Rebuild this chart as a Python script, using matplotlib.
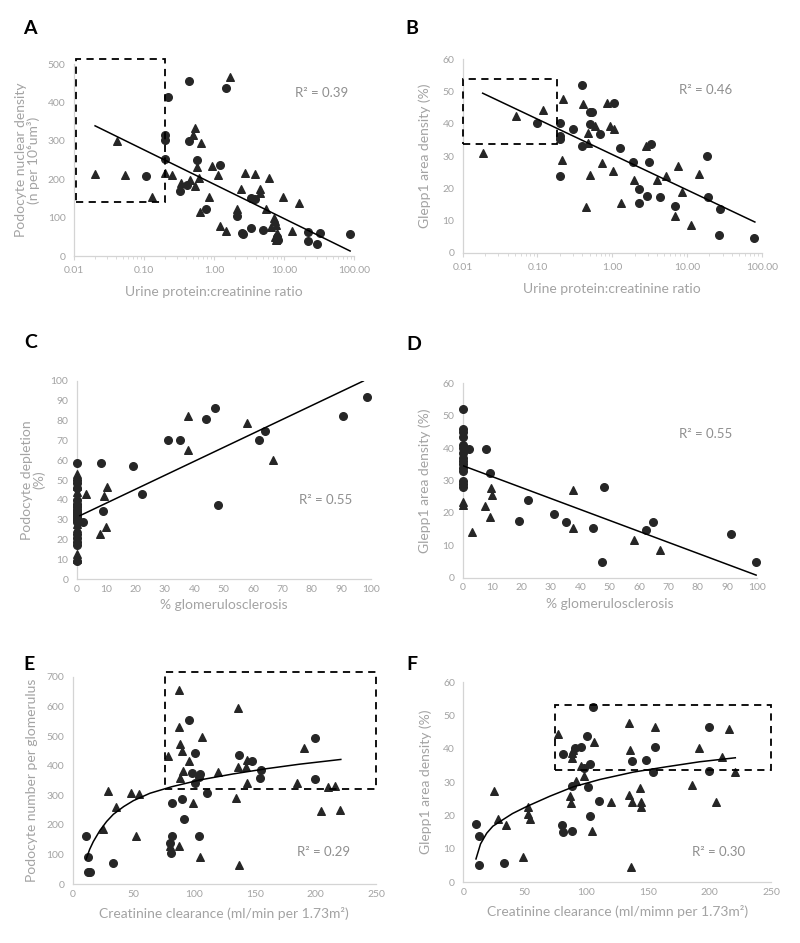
import numpy as np
import matplotlib
matplotlib.use("Agg")
import matplotlib.pyplot as plt
from matplotlib.patches import Rectangle
from matplotlib.ticker import FixedLocator, NullFormatter

plt.rcParams["font.family"] = ["Lato", "DejaVu Sans"]

# ─────────────────────────────────────────────
# Data
# ─────────────────────────────────────────────
# A: urine protein:creatinine ratio vs podocyte nuclear density
A_circ_x = [0.44, 1.47, 0.22, 0.2, 0.2, 0.2, 0.44, 0.106, 0.33, 0.41, 0.565, 0.77, 1.22,
            2.15, 2.5, 2.6, 3.4, 3.4, 3.9, 5.0, 22.3, 22.3, 30, 33, 88, 7.9, 8.1]
A_circ_y = [456, 438, 413, 315, 302, 252, 299, 208, 169, 186, 250, 123, 238,
            103, 61, 57, 73, 151, 148, 69, 63, 39, 30, 60, 57, 50, 41]
A_tri_x = [0.02, 0.041, 0.054, 0.129, 0.2, 0.25, 0.34, 0.45, 0.495, 0.53, 0.54, 0.565,
           0.61, 0.63, 0.65, 0.85, 0.95, 1.15, 1.22, 1.5, 1.69, 2.15, 2.43, 2.8, 3.9,
           4.5, 4.6, 6.1, 5.6, 6.5, 7.2, 7.5, 7.8, 8.0, 7.4, 7.7, 9.8, 13, 16.5]
A_tri_y = [214, 299, 210, 154, 215, 210, 190, 199, 315, 334, 182, 232,
           204, 115, 295, 154, 235, 210, 79, 65, 467, 123, 174, 217, 214,
           174, 163, 202, 123, 76, 100, 90, 80, 60, 50, 42, 154, 65, 138]
A_trend_x = [0.02, 88]
A_trend_y = [339, 13]

# B: urine protein:creatinine ratio vs Glepp1 area density
B_circ_x = [0.39, 0.098, 0.2, 0.2, 0.2, 0.2, 0.30, 0.39, 0.50, 0.53, 0.50, 0.69, 1.07,
            1.27, 1.92, 2.25, 2.25, 2.96, 3.15, 3.35, 4.37, 6.95, 18.8, 19.3, 26.5, 27.8, 80]
B_circ_y = [52, 40.2, 40.3, 36.1, 35.3, 24, 38.5, 33, 43.8, 43.8, 40, 36.8, 46.4,
            32.5, 28.1, 19.9, 15.5, 17.8, 28.1, 33.7, 17.3, 14.7, 29.9, 17.3, 5.6, 13.7, 4.5]
B_tri_x = [0.0185, 0.051, 0.117, 0.21, 0.22, 0.41, 0.47, 0.48, 0.45, 0.5, 0.59, 0.74,
           0.85, 0.93, 1.03, 1.07, 1.33, 1.94, 2.8, 3.94, 5.2, 6.95, 7.7, 8.5, 11.3, 14.3]
B_tri_y = [30.9, 42.3, 44.3, 28.9, 47.7, 46.2, 34, 37.3, 14.4, 24.2, 39.4, 27.8,
           46.6, 39.2, 25.3, 38.4, 15.5, 22.7, 33, 22.7, 23.7, 11.6, 27.1, 18.8, 8.8, 24.4]
B_trend_x = [0.0185, 81]
B_trend_y = [49.5, 9.6]

# C: % glomerulosclerosis vs podocyte depletion
C_circ_x = [0] * 19 + [2, 8.3, 9, 19, 22.3, 31, 35.1, 43.9, 47, 48, 62, 64, 90.7, 98.9]
C_circ_y = [58.5, 50, 48.5, 46, 40, 38, 36.5, 35, 34, 33, 32, 31, 30, 29, 23, 21, 19, 17.5, 9,
            28.7, 58.8, 34.3, 57.3, 43.2, 70, 70, 80.8, 86.2, 37.3, 70, 74.6, 82.4, 91.8]
C_tri_x = [0] * 9 + [3.2, 7.9, 9.4, 9.8, 10.3, 37.8, 37.8, 57.9, 66.6]
C_tri_y = [53, 47, 44, 39, 37, 28, 26, 13, 10,
           42.9, 22.9, 42.2, 26.2, 46.6, 82.4, 65.4, 78.8, 60]
C_trend_x = [1.1, 97.5]
C_trend_y = [32.1, 100]

# D: % glomerulosclerosis vs Glepp1 area density
D_circ_x = [0] * 15 + [2.2, 7.9, 9.2, 19.3, 22.1, 31, 35.3, 44.3, 47.3, 48.2, 62.5, 64.6, 91.4, 99.8]
D_circ_y = [52.2, 46, 45, 43.5, 41, 40, 38.5, 37, 36, 35, 34, 33, 30, 29, 28,
            39.8, 39.8, 32.2, 17.4, 23.9, 19.7, 17.1, 15.3, 4.9, 27.9, 14.7, 17.1, 13.6, 4.8]
D_tri_x = [0, 0, 3.2, 7.7, 9.3, 9.5, 10.1, 37.5, 37.5, 58.4, 67.2]
D_tri_y = [23.3, 22.3, 14.2, 22, 18.8, 27.6, 25.4, 27.1, 15.2, 11.6, 8.7]
D_trend_x = [0, 99.8]
D_trend_y = [34.6, 0.8]

# E: creatinine clearance vs podocyte number per glomerulus
E_circ_x = [10.7, 12.9, 13, 14.5, 33.5, 80, 82, 82, 96, 90.4, 91.5, 81, 98.6, 101, 101,
            104, 105, 104, 111, 137, 148, 154, 155.5, 200, 200]
E_circ_y = [163, 93, 43, 43, 73, 138, 273, 163, 554, 288, 220, 104, 376, 442, 341,
            363, 371, 163, 308, 437, 417, 360, 385, 356, 492]
E_tri_x = [29.4, 25.3, 35.7, 48.4, 54.4, 52.2, 78.8, 87.4, 88, 88.5, 90, 90.7, 88.5, 87.6,
           80, 96, 99, 105, 106.6, 120, 134.6, 136, 136, 137, 143, 144, 144, 185, 190.7,
           205, 210.7, 216, 220]
E_tri_y = [315, 188, 260, 308, 305, 163, 433, 529, 655, 473, 449, 383, 358, 129,
           130, 417, 275, 93, 497, 378, 292, 596, 396, 65, 396, 420, 342, 342, 461,
           248, 329, 332, 249]
E_trend_x = [11, 14, 17, 22.5, 28, 33.5, 42, 50, 63.7, 81.6, 105, 132, 160, 187, 221]
E_trend_y = [84, 118, 144, 182, 212, 236, 262, 282, 307, 329, 352, 372, 390, 405, 421]

# F: creatinine clearance vs Glepp1 area density
F_circ_x = [10, 12.5, 13, 33, 80.4, 81.3, 81.3, 88.6, 88.6, 90.7, 96, 98.3, 100.2, 101,
            103, 103, 105, 110, 137, 148.4, 153.8, 155.5, 200, 200]
F_circ_y = [17.5, 14, 5.2, 5.7, 17.2, 15, 38.4, 15.5, 28.8, 40.1, 40.4, 34.1, 43.8, 28.4,
            20, 35.4, 52.6, 24.3, 36.2, 36.7, 32.9, 40.4, 46.4, 33.4]
F_tri_x = [25, 28, 34.7, 48.2, 52.8, 52.5, 54, 77.2, 86.7, 87.2, 88, 88.5, 89.5, 91.3,
           96, 98.3, 104.5, 106.4, 119.7, 134.3, 135, 135.4, 136, 137, 143.5, 144, 144,
           156, 185.5, 191.2, 205.6, 210, 216, 221]
F_tri_y = [27.4, 19, 17.2, 7.5, 22.7, 20.5, 18.9, 44.3, 25.9, 23.7, 37.3, 38.6, 39.6, 30.3,
           34.9, 31.9, 15.5, 42.1, 24, 26.1, 47.8, 39.6, 4.5, 24, 28.1, 24.2, 22.5,
           46.4, 29.2, 40.3, 24.2, 37.4, 45.9, 33.1]
F_trend_x = [10.3, 14, 19, 24, 29.8, 40, 51.5, 70.4, 89.4, 111, 138, 165, 192, 221]
F_trend_y = [7, 11.5, 14.7, 16.8, 18.2, 20.6, 22.7, 25.8, 28.6, 30.8, 33, 34.6, 36.1, 37.3]

# ─────────────────────────────────────────────
# Style
# ─────────────────────────────────────────────
W, H = 800, 943
MARK = "#262626"
TXT = "#a3a3a3"
R2C = "#8f8f8f"
AXC = "#d4d4d4"
MS = 30

fig = plt.figure(figsize=(W / 100, H / 100), dpi=100)


def px_axes(x0, x1, ytop, ybot):
    return fig.add_axes([x0 / W, 1 - ybot / H, (x1 - x0) / W, (ybot - ytop) / H])


def style(ax):
    for s in ["top", "right"]:
        ax.spines[s].set_visible(False)
    for s in ["left", "bottom"]:
        ax.spines[s].set_color(AXC)
        ax.spines[s].set_linewidth(0.9)
    ax.tick_params(axis="both", colors=AXC, labelcolor=TXT, labelsize=7.5)
    ax.tick_params(axis="y", length=0, pad=6)
    ax.tick_params(axis="x", length=3, pad=4)


def scatter(ax, cx, cy, tx, ty):
    ax.scatter(cx, cy, marker="o", s=MS, color=MARK, zorder=3, clip_on=False)
    ax.scatter(tx, ty, marker="^", s=MS, color=MARK, zorder=3, clip_on=False)


def dashed_box(ax, x0, x1, y0, y1):
    ax.add_patch(Rectangle((x0, y0), x1 - x0, y1 - y0, fill=False, ec="black",
                           lw=1.3, ls=(0, (4, 3)), clip_on=False, zorder=4))


def log_axis(ax):
    ax.set_xscale("log")
    ax.set_xlim(0.01, 100)
    ax.set_xticks([0.01, 0.1, 1, 10, 100])
    ax.set_xticklabels(["0.01", "0.10", "1.00", "10.00", "100.00"])
    minors = [m * 10.0 ** e for e in range(-2, 2) for m in range(2, 10)]
    ax.xaxis.set_minor_locator(FixedLocator(minors))
    ax.xaxis.set_minor_formatter(NullFormatter())
    ax.tick_params(axis="x", which="minor", length=2, colors=AXC)


def letter(x, y, s):
    fig.text(x / W, 1 - y / H, s, fontsize=14, fontweight="bold", color="black",
             ha="left", va="center")


# A
ax = px_axes(74, 354, 64, 256)
style(ax)
log_axis(ax)
ax.set_ylim(0, 500)
ax.set_yticks(range(0, 501, 100))
scatter(ax, A_circ_x, A_circ_y, A_tri_x, A_tri_y)
ax.plot(A_trend_x, A_trend_y, color="black", lw=1.1, zorder=4)
dashed_box(ax, 0.0107, 0.2, 140, 513)
ax.text(14.4, 424, "R² = 0.39", color=R2C, fontsize=9.5, ha="left", va="center")
ax.set_xlabel("Urine protein:creatinine ratio", color=TXT, fontsize=10, labelpad=8)
ax.set_ylabel("Podocyte nuclear density\n(n per 10⁶um³)", color=TXT, fontsize=10,
              labelpad=6, linespacing=1.0)
letter(23, 28, "A")

# B
ax = px_axes(462.7, 761.7, 59.3, 253)
style(ax)
log_axis(ax)
ax.set_ylim(0, 60)
ax.set_yticks(range(0, 61, 10))
scatter(ax, B_circ_x, B_circ_y, B_tri_x, B_tri_y)
ax.plot(B_trend_x, B_trend_y, color="black", lw=1.1, zorder=4)
dashed_box(ax, 0.0102, 0.185, 33.7, 53.9)
ax.text(7.9, 50.5, "R² = 0.46", color=R2C, fontsize=9.5, ha="left", va="center")
ax.set_xlabel("Urine protein:creatinine ratio", color=TXT, fontsize=10, labelpad=8)
ax.set_ylabel("Glepp1 area density (%)", color=TXT, fontsize=10, labelpad=8)
letter(405, 28, "B")

# C
ax = px_axes(76.7, 370.7, 381, 579.3)
style(ax)
ax.set_xlim(0, 100)
ax.set_ylim(0, 100)
ax.set_xticks(range(0, 101, 10))
ax.set_yticks(range(0, 101, 10))
ax.tick_params(axis="x", length=0)
scatter(ax, C_circ_x, C_circ_y, C_tri_x, C_tri_y)
ax.plot(C_trend_x, C_trend_y, color="black", lw=1.1, zorder=4)
ax.text(75.7, 40, "R² = 0.55", color=R2C, fontsize=9.5, ha="left", va="center")
ax.set_xlabel("% glomerulosclerosis", color=TXT, fontsize=10, labelpad=4)
ax.set_ylabel("Podocyte depletion\n(%)", color=TXT, fontsize=10, labelpad=4,
              linespacing=1.0)
letter(24, 343, "C")

# D
ax = px_axes(462.7, 756.7, 383.3, 577.7)
style(ax)
ax.set_xlim(0, 100)
ax.set_ylim(0, 60)
ax.set_xticks(range(0, 101, 10))
ax.set_yticks(range(0, 61, 10))
ax.tick_params(axis="x", length=0)
scatter(ax, D_circ_x, D_circ_y, D_tri_x, D_tri_y)
ax.plot(D_trend_x, D_trend_y, color="black", lw=1.1, zorder=4)
ax.text(73.7, 44.5, "R² = 0.55", color=R2C, fontsize=9.5, ha="left", va="center")
ax.set_xlabel("% glomerulosclerosis", color=TXT, fontsize=10, labelpad=4)
ax.set_ylabel("Glepp1 area density (%)", color=TXT, fontsize=10, labelpad=8)
letter(406, 345, "D")

# E
ax = px_axes(72.7, 376, 676.7, 884.3)
style(ax)
ax.set_xlim(0, 250)
ax.set_ylim(0, 700)
ax.set_xticks(range(0, 251, 50))
ax.set_yticks(range(0, 701, 100))
ax.tick_params(axis="x", length=0)
scatter(ax, E_circ_x, E_circ_y, E_tri_x, E_tri_y)
ax.plot(E_trend_x, E_trend_y, color="black", lw=1.1, zorder=4)
dashed_box(ax, 76, 250, 321, 717)
ax.text(184.6, 110, "R² = 0.29", color=R2C, fontsize=9.5, ha="left", va="center")
ax.set_xlabel("Creatinine clearance (ml/min per 1.73m²)", color=TXT, fontsize=10, labelpad=6)
ax.set_ylabel("Podocyte number per glomerulus", color=TXT, fontsize=10, labelpad=6)
letter(23, 665, "E")

# F
ax = px_axes(463.3, 771, 682, 882.3)
style(ax)
ax.set_xlim(0, 250)
ax.set_ylim(0, 60)
ax.set_xticks(range(0, 251, 50))
ax.set_yticks(range(0, 61, 10))
ax.tick_params(axis="x", length=0)
scatter(ax, F_circ_x, F_circ_y, F_tri_x, F_tri_y)
ax.plot(F_trend_x, F_trend_y, color="black", lw=1.1, zorder=4)
dashed_box(ax, 74.5, 249.7, 33.5, 53.1)
ax.text(185.5, 9.2, "R² = 0.30", color=R2C, fontsize=9.5, ha="left", va="center")
ax.set_xlabel("Creatinine clearance (ml/mimn per 1.73m²)", color=TXT, fontsize=10, labelpad=6)
ax.set_ylabel("Glepp1 area density (%)", color=TXT, fontsize=10, labelpad=8)
letter(406, 665, "F")

fig.savefig("out.png", dpi=100)
